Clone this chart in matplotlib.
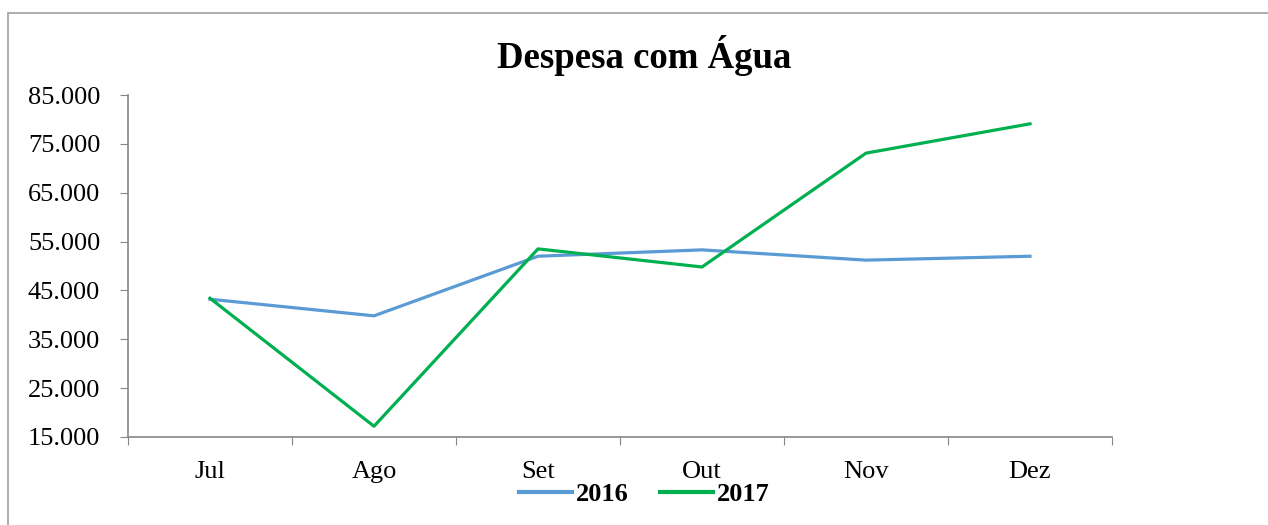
import matplotlib.pyplot as plt
from matplotlib.patches import Rectangle
from matplotlib.ticker import FuncFormatter

plt.rcParams['font.family'] = ['Liberation Serif', 'DejaVu Serif']

months = ['Jul', 'Ago', 'Set', 'Out', 'Nov', 'Dez']
despesa_2016 = [43200, 39800, 52000, 53300, 51200, 52000]
despesa_2017 = [43400, 17200, 53500, 49800, 73100, 79100]
y_ticks = [15000, 25000, 35000, 45000, 55000, 65000, 75000, 85000]


def fmt_milhar(v, pos):
    return '{:,.0f}'.format(v).replace(',', '.')


fig = plt.figure(figsize=(12.68, 5.25), dpi=100)
ax = fig.add_axes([128/1268, 1 - 437/525, (1112 - 128)/1268, (437 - 95)/525])

# outer chart frame (runs off the right and bottom edges)
fig.patches.append(Rectangle((8/1268, -0.1), 1.2, 1 - 13/525 + 0.1,
                             transform=fig.transFigure, fill=False,
                             edgecolor='#a0a0a0', linewidth=1.2))

x = range(len(months))
ax.plot(x, despesa_2016, color='#5B9BD5', linewidth=2.3, label='2016')
ax.plot(x, despesa_2017, color='#00B050', linewidth=2.3, label='2017')

ax.set_xlim(-0.5, 5.5)
ax.set_ylim(15000, 85000)
ax.set_yticks(y_ticks)
ax.yaxis.set_major_formatter(FuncFormatter(fmt_milhar))
ax.set_xticks([i - 0.5 for i in range(len(months) + 1)], minor=False)
ax.set_xticklabels([])
ax.set_xticks(list(x), minor=True)
ax.set_xticklabels(months, minor=True)
ax.tick_params(axis='x', which='minor', length=0, pad=17, labelsize=19)
ax.tick_params(axis='x', which='major', length=6, color='#868686', direction='out')
ax.tick_params(axis='y', length=6, color='#868686', direction='out', labelsize=19, pad=14)

for s in ['top', 'right']:
    ax.spines[s].set_visible(False)
for s in ['left', 'bottom']:
    ax.spines[s].set_color('#868686')
    ax.spines[s].set_linewidth(1.2)

fig.text(0.508, 1 - 56/525, 'Despesa com Água', ha='center', va='center',
         fontsize=26.5, fontweight='bold')

leg = fig.legend(loc='center', bbox_to_anchor=(0.508, 1 - 494/525), ncol=2,
                 frameon=False, prop={'weight': 'bold', 'size': 19},
                 handlelength=2.0, handletextpad=0.15, columnspacing=1.2)
for h in leg.get_lines():
    h.set_linewidth(3)

fig.savefig('out.png', dpi=100)
